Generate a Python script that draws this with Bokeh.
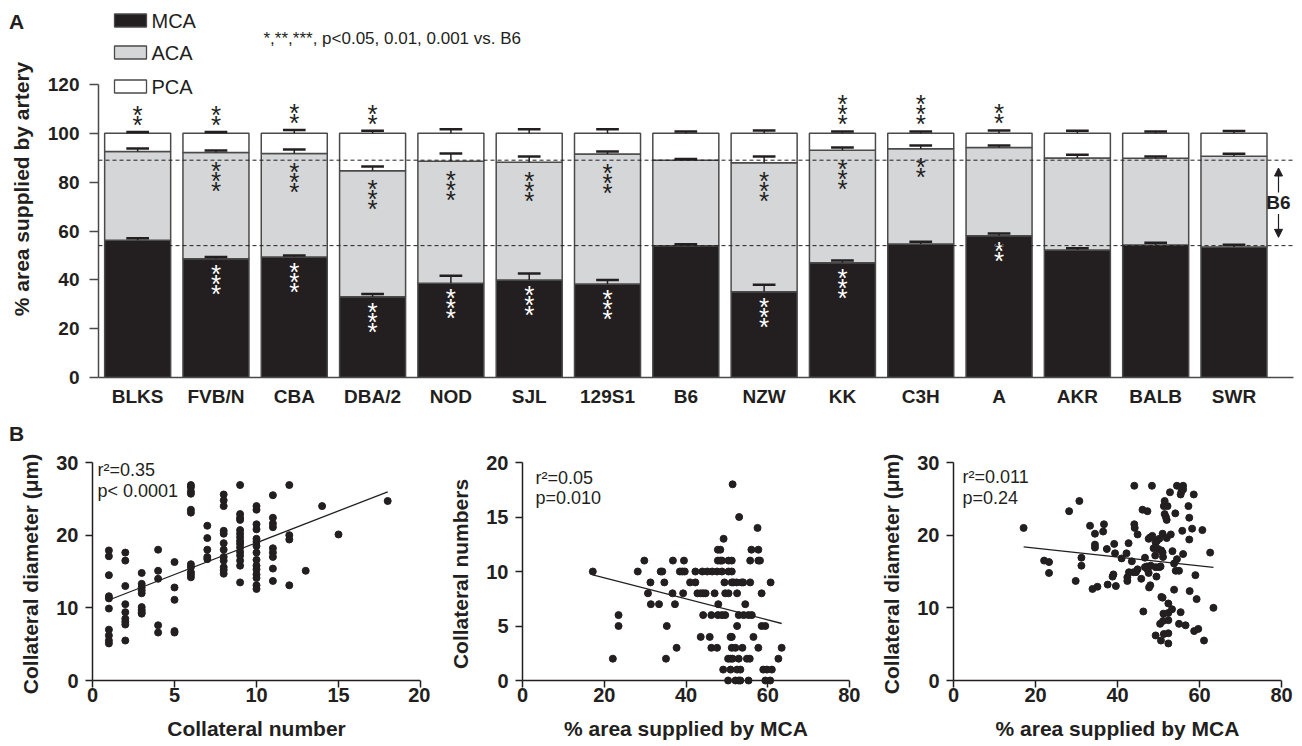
import numpy as np
from bokeh.plotting import figure
from bokeh.layouts import column, row
from bokeh.models import (ColumnDataSource, FixedTicker, Range1d, Label, Arrow, NormalHead, Span,
                          Div)
from bokeh.core.properties import value
from bokeh.embed import file_html
from bokeh.resources import INLINE

FONT = "Liberation Sans"
INK = "#231f20"
EDGE = "#4a4a4a"

# ---------------- Panel A data ----------------
strains = ["BLKS", "FVB/N", "CBA", "DBA/2", "NOD", "SJL", "129S1", "B6",
           "NZW", "KK", "C3H", "A", "AKR", "BALB", "SWR"]
mca = [56.2, 48.6, 49.4, 33.1, 38.6, 39.9, 38.3, 54.0, 35.1, 47.0, 54.7, 58.1, 52.2, 54.3, 53.4]
mca_err = [0.8, 0.8, 0.6, 1.1, 3.1, 2.7, 1.6, 0.6, 2.9, 0.9, 0.9, 0.9, 0.7, 0.9, 1.0]
aca = [36.4, 43.5, 42.3, 51.6, 50.0, 48.3, 53.2, 35.0, 52.9, 46.1, 39.0, 36.1, 37.7, 35.5, 37.2]
aca_err = [1.2, 0.9, 1.7, 1.7, 3.1, 2.3, 1.1, 0.5, 2.5, 1.1, 1.3, 0.8, 1.3, 0.7, 1.0]
pca = [7.4, 7.9, 8.3, 15.3, 11.4, 11.8, 8.5, 11.0, 12.0, 6.9, 6.3, 5.8, 10.1, 10.2, 9.4]
pca_err = [0.5, 0.5, 1.4, 1.1, 1.7, 1.7, 1.7, 0.8, 1.2, 0.8, 0.8, 1.2, 1.1, 0.8, 1.0]
stars_pca = [2, 2, 2, 2, 0, 0, 0, 0, 0, 3, 3, 2, 0, 0, 0]
stars_aca = [0, 3, 3, 3, 3, 3, 3, 0, 3, 3, 2, 0, 0, 0, 0]
stars_mca = [0, 3, 3, 3, 3, 3, 3, 0, 3, 3, 0, 2, 0, 0, 0]
legend_names = ["MCA", "ACA", "PCA"]
legend_colors = ["#231f20", "#d5d6d8", "#ffffff"]
sig_note = "*,**,***, p<0.05, 0.01, 0.001 vs. B6"
yticks_a = [0, 20, 40, 60, 80, 100, 120]

# ---------------- Panel B data ----------------
coll_number = ([1] * 10 + [2] * 9 + [3] * 9 + [4] * 5 + [5] * 5 + [6] * 11 + [7] * 5 + [8] * 12 +
               [9] * 15 + [10] * 15 + [11] * 9 + [12] * 4 + [13] + [14] + [15] + [18])
coll_diameter = [17.9, 17.1, 14.5, 11.6, 11.3, 9.9, 7.0, 6.2, 5.5, 5.1,
                 17.6, 16.5, 13.0, 10.5, 9.4, 8.5, 8.1, 7.7, 5.5,
                 14.8, 13.3, 12.8, 12.4, 12.0, 10.1, 9.7, 9.4, 9.2,
                 18.0, 15.1, 14.0, 7.6, 6.6,
                 16.3, 12.8, 11.1, 6.8, 6.6,
                 26.9, 26.6, 26.0, 25.7, 23.5, 23.1, 16.0, 15.6, 14.9, 14.6, 14.2,
                 21.3, 19.6, 18.0, 17.0, 16.7,
                 25.6, 24.8, 24.0, 20.6, 20.2, 18.9, 18.0, 17.0, 16.5, 15.6, 15.2, 14.7,
                 26.9, 22.9, 22.4, 22.1, 20.7, 20.2, 19.7, 19.2, 18.8, 18.3, 17.7, 17.2, 16.5, 15.8, 13.5,
                 24.0, 23.5, 21.5, 20.8, 19.5, 19.1, 18.5, 17.6, 16.6, 15.8, 15.3, 14.6, 14.1, 13.1, 12.6,
                 25.5, 22.4, 21.6, 21.1, 18.2, 17.6, 17.0, 15.4, 13.7,
                 26.9, 20.0, 19.4, 13.1,
                 15.1, 24.0, 20.1, 24.7]
fit_num_diam = (0.876, 10.2)   # slope, intercept

mca_area_n = [51.4, 53.0, 57.5, 49.2,
              47.8, 48.4, 56.0, 57.7,
              29.8, 36.8, 39.5, 47.8, 48.4, 48.8, 50.4, 51.2, 55.7, 57.7, 58.1,
              17.2, 28.2, 33.8, 34.2, 38.5, 39.1, 39.7, 42.3, 44.0, 45.2, 46.4, 47.6, 48.8, 50.4, 51.2,
              31.3, 34.7, 41.0, 42.3, 49.4, 51.2, 51.6, 52.4, 53.6, 54.0, 55.7, 60.7,
              30.7, 36.7, 39.3, 42.8, 43.6, 44.2, 44.8, 47.0, 49.6, 50.4, 52.5, 58.5,
              31.4, 33.4, 37.3, 47.9, 54.5,
              23.5, 44.2, 46.2, 47.8, 48.8, 49.6, 52.9, 54.1, 55.3, 56.1,
              23.5, 35.3, 52.5, 58.5, 59.4,
              43.6, 45.8, 50.9, 51.2, 56.5,
              37.7, 46.2, 47.6, 51.2, 52.1, 53.8, 57.7, 63.4,
              22.1, 35.1, 50.3, 50.9, 51.4, 52.9, 54.9, 55.6, 62.6,
              49.1, 50.9, 52.5, 53.3, 58.9, 59.8, 61.0,
              50.3, 52.1, 52.9, 53.3, 55.3, 59.4, 60.6]
coll_numbers_n = ([18, 15, 14, 13] + [12] * 4 + [11] * 11 + [10] * 15 + [9] * 12 + [8] * 12 +
                  [7] * 5 + [6] * 10 + [5] * 5 + [4] * 5 + [3] * 8 + [2] * 9 + [1] * 7 + [0] * 7)
fit_area_num = (-0.0967, 11.36)

mca_area_d = [17.1, 22.1, 23.3, 23.3, 28.2, 29.8, 30.7, 31.2, 31.2, 33.3, 33.9, 34.5, 34.5, 34.5, 35.1,
              36.7, 36.5, 37.4, 37.6, 38.8, 39.0, 39.2, 39.4, 39.6, 41.0, 42.2, 42.4, 42.4, 42.7, 42.8,
              43.5, 43.9, 44.1, 44.1, 44.2, 44.5, 44.9, 44.9, 45.8, 46.1, 46.3, 46.7, 46.7, 47.2, 47.3,
              47.3, 47.6, 48.0, 47.6, 47.7, 48.0, 48.1, 48.4, 48.5, 48.8, 49.2, 49.3, 49.6, 49.3, 49.5,
              49.3, 49.9, 50.2, 50.2, 50.5, 50.4, 50.6, 50.7, 51.0, 50.7, 51.0, 51.0, 51.1, 51.2, 51.1,
              51.3, 51.3, 51.5, 51.5, 51.8, 52.0, 52.0, 52.2, 52.4, 52.4, 52.4, 52.4, 52.4, 52.8, 53.0,
              53.3, 53.4, 53.8, 53.8, 54.1, 54.2, 54.5, 54.5, 55.0, 55.0, 55.4, 55.4, 55.6, 55.8, 56.0,
              56.0, 56.0, 56.6, 57.3, 57.5, 57.5, 57.6, 58.2, 58.6, 58.7, 59.0, 59.3, 59.7, 60.7, 61.1,
              62.6, 63.4]
coll_diam_d = [21.0, 16.5, 16.3, 14.8, 23.3, 13.7, 24.7, 16.9, 15.8, 21.3, 12.6, 18.3, 18.7, 20.2, 12.9,
               21.5, 20.5, 18.1, 13.2, 14.3, 14.6, 18.8, 17.5, 13.0, 16.8, 17.5, 14.2, 13.7, 18.9, 14.9,
               16.4, 14.9, 26.8, 21.5, 21.0, 14.9, 20.1, 15.3, 14.0, 23.5, 9.5, 16.9, 15.6, 15.7, 15.3,
               23.3, 19.5, 19.7, 14.8, 12.8, 13.1, 15.8, 26.8, 19.9, 18.2, 17.2, 19.0, 19.2, 15.6, 14.3,
               6.2, 18.1, 19.5, 15.6, 15.7, 7.8, 5.5, 11.5, 11.4, 17.9, 17.6, 20.2, 17.0, 9.2, 8.2,
               6.4, 24.0, 24.7, 22.9, 22.5, 22.1, 19.6, 24.0, 10.6, 9.3, 8.3, 6.5, 5.1, 25.9, 20.1,
               9.8, 17.8, 12.5, 16.1, 23.0, 15.1, 16.7, 26.8, 15.1, 7.8, 9.4, 25.6, 26.0, 20.6, 17.4,
               26.8, 26.3, 7.6, 24.0, 22.4, 19.4, 12.3, 20.9, 25.6, 6.8, 14.5, 11.2, 7.1, 20.7, 5.5,
               17.6, 10.0]
fit_area_diam = (-0.061, 19.44)

# ---------------- Panel A figure ----------------
W_A, H_A = 1302, 415
FL, FR, FB = 98, 9, 38
frame_w = W_A - FL - FR
frame_h = H_A - FB
X0, X1 = -0.5, 14.76
Y1 = 120 * frame_h / (frame_h - 84)


def px_x(px):
    return X0 + (px - FL) * (X1 - X0) / frame_w


def px_y(py):
    return (frame_h - py) * Y1 / frame_h


pa = figure(width=W_A, height=H_A, x_range=Range1d(X0, X1), y_range=Range1d(0, Y1),
            output_backend="svg", toolbar_location=None, title=None,
            min_border_left=FL, min_border_right=FR, min_border_top=0, min_border_bottom=FB,
            outline_line_color=None)
pa.grid.visible = False

idx = list(range(len(strains)))
aca_top = [m + a for m, a in zip(mca, aca)]
pca_top = [t + p for t, p in zip(aca_top, pca)]
src = ColumnDataSource(dict(x=idx, mca=mca, aca_top=aca_top, pca_top=pca_top))
BW = 0.843
pa.vbar(x="x", width=BW, bottom=0, top="mca", source=src, fill_color=legend_colors[0],
        line_color=EDGE, line_width=1.5)
pa.vbar(x="x", width=BW, bottom="mca", top="aca_top", source=src, fill_color=legend_colors[1],
        line_color=EDGE, line_width=1.5)
pa.vbar(x="x", width=BW, bottom="aca_top", top="pca_top", source=src, fill_color=legend_colors[2],
        line_color=EDGE, line_width=1.5)

# error bars (upper only)
ex = idx * 3
ey0 = mca + aca_top + pca_top
ey1 = [t + e for t, e in zip(ey0, mca_err + aca_err + pca_err)]
CAP = 0.145
pa.segment(x0=ex, y0=ey0, x1=ex, y1=ey1, line_color=INK, line_width=1.5)
pa.segment(x0=[x - CAP for x in ex], y0=ey1, x1=[x + CAP for x in ex], y1=ey1,
           line_color=INK, line_width=2.5)

# B6 reference lines
b6 = strains.index("B6")
for lvl in (mca[b6], aca_top[b6]):
    pa.add_layout(Span(location=lvl, dimension="width", line_color=INK, line_width=1,
                       line_dash="4 3"))
xa = px_x(1278)
mid = (mca[b6] + aca_top[b6]) / 2
pa.add_layout(Arrow(end=NormalHead(size=8, fill_color=INK, line_color=INK),
                    x_start=xa, y_start=mid + 4.3, x_end=xa, y_end=aca_top[b6] - 3.2,
                    line_color=INK, line_width=1.2))
pa.add_layout(Arrow(end=NormalHead(size=8, fill_color=INK, line_color=INK),
                    x_start=xa, y_start=mid - 4.5, x_end=xa, y_end=mca[b6] + 3.4,
                    line_color=INK, line_width=1.2))
pa.text(x=[xa], y=[mid], text=["B6"], text_align="center", text_baseline="middle",
        text_font=value(FONT), text_font_style="bold", text_font_size="19px", text_color=INK)

# significance stars
STEP = 4.1
STAR_FS = 26
STAR_OFF = 4


def star_pos(counts, base, step):
    xs, ys = [], []
    for i, (n, b) in enumerate(zip(counts, base)):
        for k in range(n):
            xs.append(i)
            ys.append(b + step * k)
    return xs, ys


sx, sy = star_pos(stars_pca, [t + e + 4.5 for t, e in zip(pca_top, pca_err)], STEP)
pa.text(x=sx, y=sy, text=["*"] * len(sx), text_align="center", text_baseline="alphabetic",
        y_offset=STAR_OFF, text_font=value(FONT), text_font_size=f"{STAR_FS}px", text_color=INK)
sx, sy = star_pos(stars_aca, [t - 6 for t in aca_top], -STEP)
pa.text(x=sx, y=sy, text=["*"] * len(sx), text_align="center", text_baseline="alphabetic",
        y_offset=STAR_OFF, text_font=value(FONT), text_font_size=f"{STAR_FS}px", text_color=INK)
sx, sy = star_pos(stars_mca, [t - 4.5 for t in mca], -STEP)
pa.text(x=sx, y=sy, text=["*"] * len(sx), text_align="center", text_baseline="alphabetic",
        y_offset=STAR_OFF, text_font=value(FONT), text_font_size=f"{STAR_FS}px", text_color="white")

# legend (manual)
leg_y = [px_y(20), px_y(52), px_y(86)]
leg_src = ColumnDataSource(dict(x=[px_x(130)] * 3, y=leg_y, c=legend_colors, t=legend_names,
                                tx=[px_x(151)] * 3))
pa.rect(x="x", y="y", width=32 * (X1 - X0) / frame_w, height=13 * Y1 / frame_h,
        fill_color="c", line_color=EDGE, line_width=1.3, source=leg_src)
pa.text(x="tx", y="y", text="t", text_baseline="middle", text_font=value(FONT),
        text_font_size="20px", text_color=INK, source=leg_src)
pa.text(x=[px_x(263)], y=[px_y(38)], text=[sig_note], text_baseline="alphabetic",
        text_font=value(FONT), text_font_size="17px", text_color=INK)

# axes
ya = pa.yaxis[0]
ya.ticker = FixedTicker(ticks=yticks_a)
ya.bounds = (0, 120)
ya.axis_label = "% area supplied by artery"
xa_ax = pa.xaxis[0]
xa_ax.ticker = FixedTicker(ticks=idx)
xa_ax.major_label_overrides = {i: s for i, s in enumerate(strains)}
for ax in (ya, xa_ax):
    ax.axis_line_color = EDGE
    ax.axis_line_width = 1.5
    ax.major_tick_line_color = EDGE
    ax.major_tick_line_width = 1.5
    ax.minor_tick_line_color = None
    ax.major_tick_in = 0
    ax.major_label_text_font = FONT
    ax.major_label_text_font_style = "bold"
    ax.major_label_text_font_size = "19px"
    ax.major_label_text_color = INK
    ax.axis_label_text_font = FONT
    ax.axis_label_text_font_style = "bold"
    ax.axis_label_text_font_size = "21px"
    ax.axis_label_text_color = INK
ya.major_tick_out = 9
ya.major_label_standoff = 10
ya.axis_label_standoff = 12
xa_ax.major_tick_out = 0
xa_ax.major_label_standoff = 8


# ---------------- Panel B figures ----------------
PAD_PX = 5


def scatter_panel(width, left, right, page_left, xmax, xticks, ymax, yticks, xs, ys, fit,
                  xlabel, ylabel, stats, text_px, base_px):
    ppu_y = 218.0 / ymax
    pad = PAD_PX / ppu_y
    frame_wd = width - left - right
    ppu_x = frame_wd / xmax
    p = figure(width=width, height=331, x_range=Range1d(0, xmax), y_range=Range1d(-pad, ymax),
               output_backend="svg", toolbar_location=None, title=None,
               min_border_left=left, min_border_right=right, min_border_top=47,
               min_border_bottom=61, outline_line_color=None)
    p.grid.visible = False
    # x axis line drawn at y = 0 (frame extends a few px lower so dots at 0 are not cut)
    p.add_layout(Span(location=0, dimension="width", line_color=INK, line_width=1.5))
    p.scatter(x=xs, y=ys, marker="circle", size=7, fill_color=INK, line_color=INK)
    x_lo, x_hi = min(xs), max(xs)
    p.line(x=[x_lo, x_hi], y=[fit[1] + fit[0] * x_lo, fit[1] + fit[0] * x_hi],
           line_color=INK, line_width=1.3)
    for txt, bp in zip(stats, base_px):
        p.add_layout(Label(x=(text_px - page_left) / ppu_x, y=(680 - bp) / ppu_y, text=txt,
                           text_font=FONT, text_font_size="18px", text_color=INK,
                           text_baseline="alphabetic"))
    p.xaxis.ticker = FixedTicker(ticks=xticks)
    p.yaxis.ticker = FixedTicker(ticks=yticks)
    p.yaxis.bounds = (0, ymax)
    p.xaxis.axis_label = xlabel
    p.yaxis.axis_label = ylabel
    for ax in (p.xaxis[0], p.yaxis[0]):
        ax.axis_line_color = INK
        ax.axis_line_width = 1.5
        ax.major_tick_line_color = INK
        ax.major_tick_line_width = 1.5
        ax.minor_tick_line_color = None
        ax.major_tick_in = 0
        ax.major_tick_out = 7
        ax.major_label_text_font = FONT
        ax.major_label_text_font_style = "bold"
        ax.major_label_text_font_size = "20px"
        ax.major_label_text_color = INK
        ax.axis_label_text_font = FONT
        ax.axis_label_text_font_style = "bold"
        ax.axis_label_text_font_size = "21px"
        ax.axis_label_text_color = INK
    p.xaxis.axis_line_color = None
    p.xaxis.major_tick_in = PAD_PX
    p.xaxis.major_tick_out = 2
    p.yaxis.major_label_standoff = 7
    p.yaxis.axis_label_standoff = 11
    p.xaxis.major_label_standoff = 0
    p.xaxis.axis_label_standoff = 12
    return p


s1 = scatter_panel(430, 92, 10, 92, 20, [0, 5, 10, 15, 20], 30, [0, 10, 20, 30],
                   coll_number, coll_diameter, fit_num_diam,
                   "Collateral number", "Collateral diameter (\u03bcm)",
                   ["r\u00b2=0.35", "p< 0.0001"], 97, [469, 490])
s2 = scatter_panel(430, 92, 11, 522, 80, [0, 20, 40, 60, 80], 20, [0, 5, 10, 15, 20],
                   mca_area_n, coll_numbers_n, fit_area_num,
                   "% area supplied by MCA", "Collateral numbers",
                   ["r\u00b2=0.05", "p=0.010"], 535, [477, 497])
s3 = scatter_panel(442, 93, 21, 953, 80, [0, 20, 40, 60, 80], 30, [0, 10, 20, 30],
                   mca_area_d, coll_diam_d, fit_area_diam,
                   "% area supplied by MCA", "Collateral diameter (\u03bcm)",
                   ["r\u00b2=0.011", "p=0.24"], 962, [476, 497])


# panel letters sit outside the plot frames, so they are absolutely placed text elements
def panel_letter(txt, left, top):
    return Div(text=txt, styles={"position": "absolute", "left": f"{left}px", "top": f"{top}px",
                                 "font-family": FONT, "font-weight": "bold",
                                 "font-size": "21px", "line-height": "24px",
                                 "color": INK, "margin": "0", "z-index": "10"})


layout = column(panel_letter("A", 9, 10), panel_letter("B", 9, 422), pa, row(s1, s2, s3))
open("out.html", "w").write(file_html(layout, INLINE))
